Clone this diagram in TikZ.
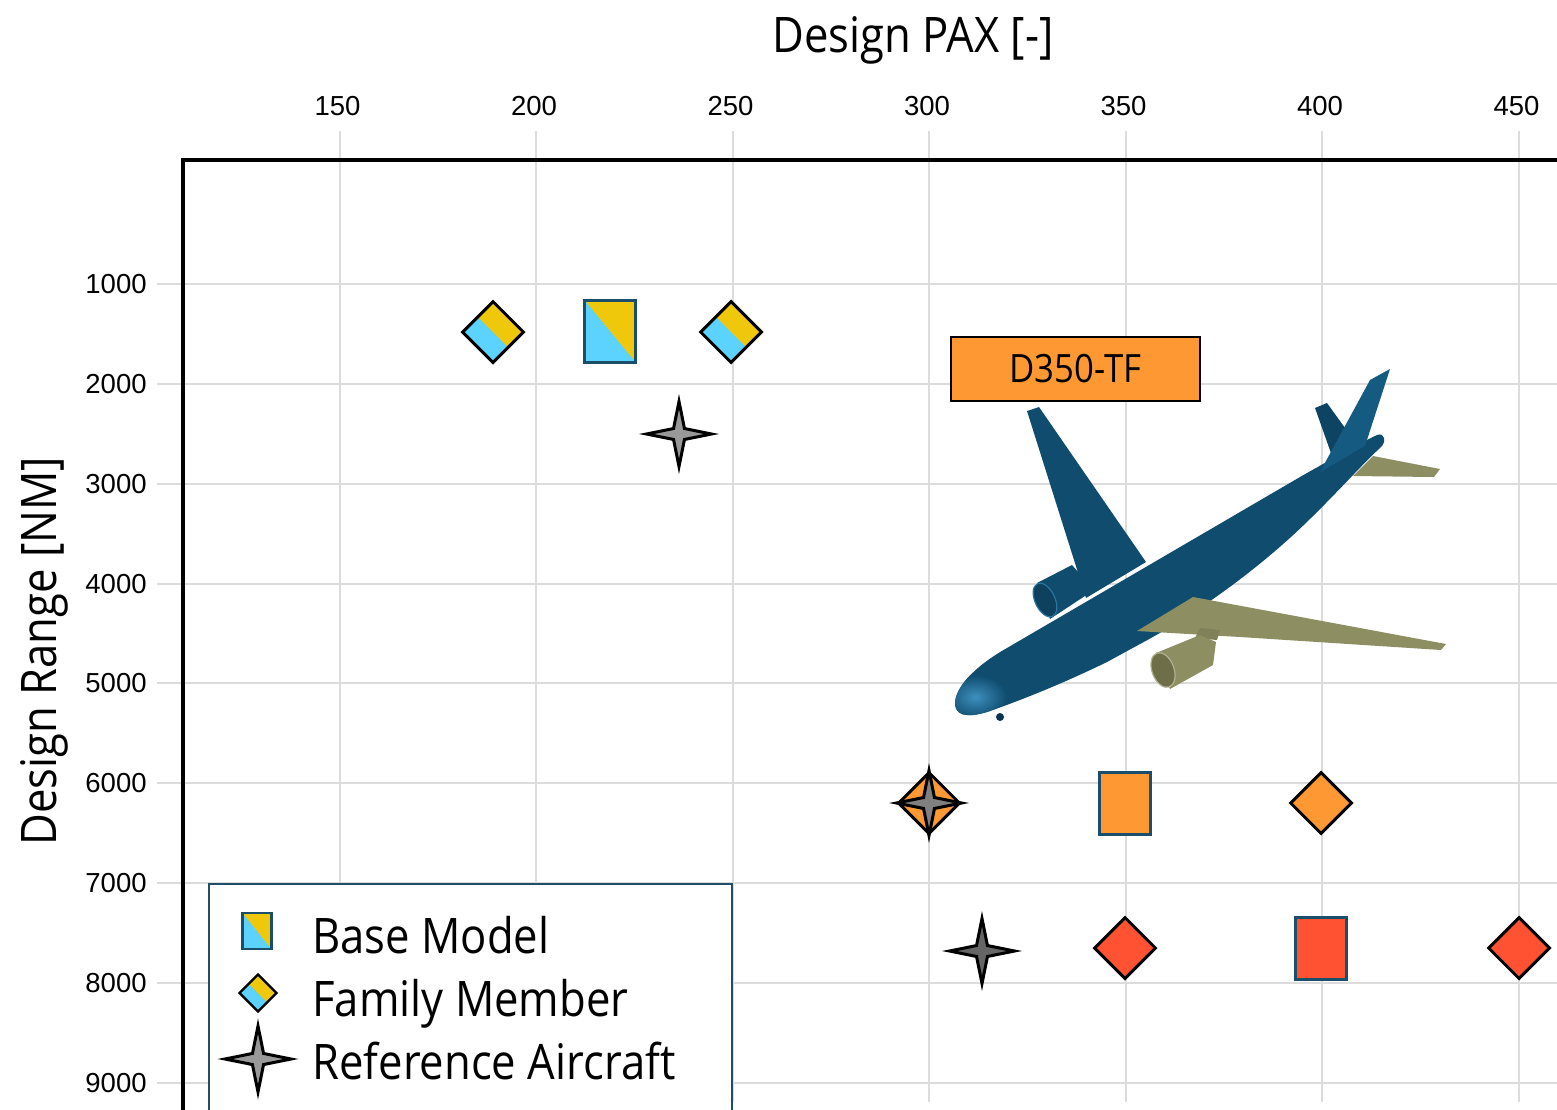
\documentclass[tikz,border=0pt]{standalone}
\usepackage{fontspec}
\newfontfamily\labelfont{Open Sans}[FakeStretch=0.89]
\newfontfamily\tickfont{Liberation Sans}
\usepackage{xcolor}
\usepackage{tikz}
\usetikzlibrary{shapes.geometric, positioning}

\definecolor{gridgray}{HTML}{DCDCDC}
\definecolor{famblue}{HTML}{5CD2FF}
\definecolor{famyellow}{HTML}{EFC80C}
\definecolor{famorange}{HTML}{FD9832}
\definecolor{famred}{HTML}{FF5233}
\definecolor{sqborder}{HTML}{1B4E6B}
\definecolor{legborder}{HTML}{1F4E66}
\definecolor{starlight}{HTML}{999999}
\definecolor{starmid}{HTML}{808080}
\definecolor{stardark}{HTML}{666666}
\definecolor{planebody}{HTML}{0F4C6E}
\definecolor{planelight}{HTML}{3E8FBE}
\definecolor{planefin}{HTML}{155A80}
\definecolor{planeolive}{HTML}{8E8E63}
\definecolor{oliveshade}{HTML}{6E6E48}

\begin{document}
\begin{tikzpicture}[x=0.5pt, y=-0.5pt,
		gridline/.style={draw=gridgray, line width=1pt}, % light grid
		axisline/.style={line width=2pt, line join=miter}, % thick frame
		ticklabel/.style={font=\tickfont\fontsize{13.75}{15}\selectfont, inner sep=0pt},
		axistitle/.style={font=\labelfont\fontsize{24.5}{28}\selectfont, inner sep=0pt},
		split/.style={path picture={\fill[famyellow] (path picture bounding box.north west) -- (path picture bounding box.north east) -- (path picture bounding box.south east) -- cycle;}},
		famdiamond/.style={diamond, draw=black, line width=1.5pt, inner sep=0pt, minimum width=31pt, minimum height=31pt},
		basesquare/.style={rectangle, draw=sqborder, line width=1.5pt, inner sep=0pt, minimum width=25.5pt, minimum height=31pt},
		refstar/.style={star, star points=4, star point ratio=4.2, draw=black, line width=1.5pt, inner sep=0pt, minimum size=32.5pt},
		legtext/.style={font=\labelfont\fontsize{24.5}{28}\selectfont, inner sep=0pt, anchor=base west}
		]
		\useasboundingbox (0,0) rectangle (1557,1109);
		\clip (0,0) rectangle (1557,1109);
		% Grid and tick labels
		\foreach \p in {150,200,...,450} {
			\pgfmathsetmacro\gx{929+(\p-300)*3.93}
			\draw[gridline] (\gx,131) -- (\gx,1102);
			\node[ticklabel, anchor=base] (xt\p) at (\gx-2,115) {\p};
		}
		\foreach \r in {1000,2000,...,9000} {
			\pgfmathsetmacro\gy{184+\r*0.09988}
			\draw[gridline] (157,\gy) -- (1557,\gy);
			\node[ticklabel, anchor=east] (yt\r) at (147,\gy) {\r};
		}
		% Frame
		\draw[axisline] (183,1112) -- (183,160) -- (1560,160);
		% Axis titles
		\node[axistitle, anchor=base] (xtitle) at (913,52) {Design PAX [-]};
		\node[axistitle, anchor=base, rotate=90] (ytitle) at (56,651) {Design Range [NM]};
		
		% Aircraft picture
		% upper engine and wing (behind the fuselage)
		\fill[planebody] (1037,583) -- (1072,565) -- (1094,590) -- (1050,619) -- cycle;
		\fill[planebody!85!black, rotate around={25:(1045,600)}] (1045,600) ellipse [x radius=10, y radius=18];
		\draw[planelight!60!planebody, line width=0.6pt, rotate around={25:(1045,600)}] (1045,600) ellipse [x radius=10, y radius=18];
		\fill[planebody] (1086,598) -- (1027,411) -- (1039,407) -- (1146,562) -- cycle;
		% tailplanes
		\fill[planebody!90!black] (1315,408) -- (1327,403) -- (1345,428) -- (1332,456) -- cycle;
		\fill[planeolive] (1353,476) -- (1373,456) -- (1440,469) -- (1434,477) -- cycle;
		% fuselage
		\fill[planebody] (955,705) .. controls (954,688) and (975,666) .. (1007,648) -- (1300,477) .. controls (1330,460) and (1360,443) .. (1377,435) .. controls (1385,432) and (1387,442) .. (1380,448) .. controls (1360,466) and (1322,510) .. (1282,545) .. controls (1250,573) and (1200,612) .. (1140,644) -- (1107,662) .. controls (1070,680) and (1030,697) .. (990,711) .. controls (975,716) and (957,719) .. (955,705) -- cycle;
		\begin{scope}
			\clip (955,705) .. controls (954,688) and (975,666) .. (1007,648) -- (1073,610) -- (1095,660) -- (990,711) .. controls (975,716) and (957,719) .. (955,705) -- cycle;
			\shade[inner color=planelight, outer color=planebody] (975,697) ellipse [x radius=32, y radius=22];
		\end{scope}
		% lower wing (in front of the fuselage)
		\fill[planeolive] (1137,631) -- (1193,597) -- (1446,644) -- (1441,650) -- (1240,637) -- cycle;
		% lower engine
		\fill[planeolive!90!black] (1195,638) -- (1200,628) -- (1220,630) -- (1217,640) -- cycle;
		\fill[planeolive] (1156,653) -- (1200,635) -- (1216,642) -- (1213,665) -- (1170,689) -- cycle;
		\fill[oliveshade, rotate around={20:(1163,670)}] (1163,670) ellipse [x radius=11, y radius=18];
		\draw[planeolive!70!white, line width=0.6pt, rotate around={20:(1163,670)}] (1163,670) ellipse [x radius=11, y radius=18];
		% fin and nose gear
		\fill[planefin] (1320,472) -- (1370,380) -- (1390,369) -- (1365,446) -- cycle;
		\fill[planebody!70!black] (1000,717) circle (4);
		
		% Aircraft label
		\node[rectangle, draw=black, line width=0.75pt, fill=famorange, minimum width=124.5pt, minimum height=32pt, inner sep=0pt, font=\labelfont\fontsize{19.5}{22}\selectfont] (d350) at (1075.5,369) {D350-TF};
		
		% Short range family
		\node[basesquare, fill=famblue, split] (baseA) at (610,331) {};
		\node[famdiamond, fill=famblue, split] (famA1) at (493,332) {};
		\node[famdiamond, fill=famblue, split] (famA2) at (731,332) {};
		\node[refstar, fill=starlight] (refA) at (679,434) {};
		% D350 family
		\node[famdiamond, fill=famorange] (famB1) at (929,803) {};
		\node[refstar, fill=starmid] (refB) at (929,803) {};
		\node[basesquare, fill=famorange] (baseB) at (1125,803) {};
		\node[famdiamond, fill=famorange] (famB2) at (1321,803) {};
		% Long range family
		\node[refstar, fill=stardark] (refC) at (982,951) {};
		\node[famdiamond, fill=famred] (famC1) at (1125,948) {};
		\node[basesquare, fill=famred] (baseC) at (1321,948) {};
		\node[famdiamond, fill=famred] (famC2) at (1519,948) {};
		
		% Legend
		\draw[legborder, line width=1pt, fill=white] (209,1115) -- (209,884) -- (732,884) -- (732,1115);
		\node[basesquare, fill=famblue, split, line width=1.2pt, minimum width=14.5pt, minimum height=18pt] (legbase) at (257,931) {};
		\node[famdiamond, fill=famblue, split, line width=1.2pt, minimum width=19pt, minimum height=19pt] (legfam) at (258,993) {};
		\node[refstar, fill=starlight, minimum size=33pt] (legref) at (258,1059) {};
		\node[legtext] (legbasetxt) at (312,953) {Base Model};
		\node[legtext] (legfamtxt) at (312,1016) {Family Member};
		\node[legtext] (legreftxt) at (312,1079) {Reference Aircraft};
	\end{tikzpicture}
\end{document}
